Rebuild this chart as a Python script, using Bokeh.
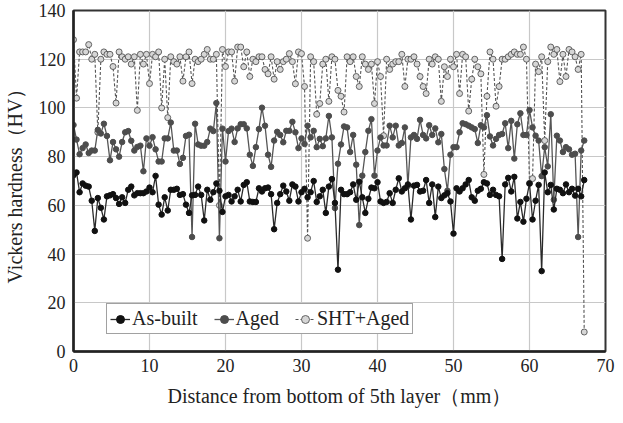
from bokeh.plotting import figure
from bokeh.models import Range1d, FixedTicker, Legend, LegendItem
from bokeh.embed import file_html
from bokeh.resources import INLINE

# Measurement spacing (mm) along the build direction
step_mm = 0.4

as_built = [
    72.4, 73.5, 65.4, 69, 68.1, 67.7, 61.9, 49.5, 63, 59,
    54.2, 63.7, 64.1, 64.6, 63, 60.6, 63.3, 61, 66.4, 67.7,
    64.1, 65, 65, 65, 65.7, 67.3, 65.4, 72.1, 60.3, 56.2,
    63.3, 57.9, 66.4, 66.4, 66.8, 64.3, 64.6, 60.3, 56.9, 64.1,
    64.3, 67.7, 64.3, 53.8, 66.4, 62.3, 65.4, 69, 66, 57.3,
    63.7, 64.3, 61.6, 63.7,
    66.4, 61.6, 68.4, 69.5, 61.6, 61.4, 61.4, 67, 65.7, 67,
    67.3, 64.6, 50.2, 61, 64.6, 68.1, 65.7, 61.9, 68.6, 67.7,
    61.6, 65.4, 66.8, 63.3, 65.4, 70, 61.4, 63.7, 66.4, 56.9,
    67.7, 70.8, 61, 33.6, 66.4, 64.6, 64.6, 65.4, 68.6, 62.3,
    69.7, 63.3, 56.9, 62.7, 67.3, 67, 69.5, 61.6, 61, 61.4,
    65, 61, 66.4, 71.1, 65.7,
    67, 68.6, 54.2, 68.1, 68.4, 65.7, 66, 70.4, 61, 68.6,
    55.2, 67.7, 63, 64.1, 65, 61.6, 48.4, 67, 65.7, 67,
    68.6, 70.4, 63.3, 61.9, 66, 66.8, 69.5, 69, 64.3, 66.4,
    64.3, 63.7, 38, 68.6, 71.3, 65.7, 71.7, 54.6, 61.4, 53.3,
    62.7, 69, 54.2, 61.9, 68.4, 33, 73.5, 65.4, 68.4, 58.3,
    66.8, 66.4, 65, 68.6, 65.4, 66.8, 64, 66.8, 63.7, 70.4,
]

aged = [
    93, 87, 81, 83.5, 85, 81.5, 82.5, 82.5, 91, 89.5,
    93.5, 88.5, 78.5, 86, 83, 80, 86, 90, 90.5, 86.5,
    82.5, 84, 84.5, 74, 87.5, 84.5, 88, 83, 78, 78,
    87.5, 87.5, 94, 82.5, 82.5, 77, 79.5, 88.5, 89, 47,
    93.5, 85, 84.5, 84.5, 86, 91.5, 90.5, 102, 46.5, 91.5,
    78, 90.5, 91.5, 86,
    91.6, 93.3, 93.3, 91.6, 80.8, 76.2, 83.9, 91.3, 100.1, 92.7,
    80.8, 75.8, 86.6, 90.2, 88.9, 85.9, 90.6, 90.6, 94.3, 90,
    83.5, 87.5, 85.2, 92.7, 87.9, 90.6, 83.9, 87.3, 84.3, 87.5,
    96.7, 87.9, 58.9, 77.1, 85, 92.4, 92, 81.9, 88.9, 76.7,
    51.9, 72.2, 81.9, 90.6, 95.4, 72.2, 82.5, 87.9, 84.6, 84.6,
    92.7, 87.9, 92.7, 84.6, 85.6,
    92, 68, 87.9, 88.9, 87.3, 95.1, 88.9, 87.5, 92.9, 88.9,
    91.6, 85.9, 89.3, 74.9, 66, 80.8, 83.9, 83.9, 90, 93.7,
    93.3, 92.7, 92, 91.3, 85.6, 92.9, 92, 97, 88.3, 84.6,
    87.3, 88.9, 89.3, 93.7, 83.5, 94.7, 79.2, 93.3, 97.8, 88.9,
    88.9, 99.1, 92, 88.6, 86.6, 72, 83.9, 76, 97.4, 62.3,
    88.6, 86.6, 81.9, 83.9, 83, 80.8, 81.2, 47, 82.5, 86.6,
]

sht_aged = [
    128, 104, 123, 123, 123, 126, 120, 122, 90, 120,
    123, 122, 122, 117, 102, 123, 121, 120, 121, 118,
    121, 99, 122, 118, 122, 110, 122, 121, 123, 100,
    120, 96, 121, 119, 118, 121, 111, 121, 123, 110,
    120, 119, 120, 122, 124, 120, 120, 122, 60, 124,
    117, 123, 123, 111,
    125, 125, 116.9, 123, 112.9, 120, 119, 121, 121, 115.8,
    114, 121, 111.8, 119, 115.8, 119, 120, 122.3, 119, 109.9,
    123, 122.3, 108.8, 46.5, 121, 119, 97.4, 101.8, 118, 120,
    102.7, 121, 120, 107.2, 104.8, 98.3, 121, 119, 121, 112.9,
    108.8, 121, 118, 115.8, 118, 101.8, 119, 112.9, 88.6, 120,
    115.8, 118, 119, 119, 122,
    108.8, 120, 120, 121, 118, 112.9, 108.8, 105.9, 120, 118,
    121, 120, 102.7, 116.9, 112.9, 120, 116.9, 122, 105.9, 122,
    121, 98.7, 111.8, 120, 116.9, 114, 72.7, 104.8, 123, 120,
    100.7, 108.8, 120, 120, 121, 122, 123, 122, 122, 125,
    120, 69, 71, 118, 114.9, 121, 86.6, 119, 125, 122,
    124, 110.8, 122, 112.9, 124, 123, 121, 115.8, 122, 8,
]

x_ticks = [0, 10, 20, 30, 40, 50, 60, 70]
y_ticks = [0, 20, 40, 60, 80, 100, 120, 140]

def positions(n):
    return [round(step_mm * i, 2) for i in range(n)]

FONT = "Liberation Serif"

p = figure(width=615, height=415, output_backend="svg", toolbar_location=None,
           x_range=Range1d(0, 70), y_range=Range1d(0, 140),
           min_border_left=67, min_border_right=10, min_border_top=10, min_border_bottom=64)

p.xgrid.ticker = FixedTicker(ticks=x_ticks)
p.ygrid.ticker = FixedTicker(ticks=y_ticks)
p.xaxis.ticker = FixedTicker(ticks=x_ticks)
p.yaxis.ticker = FixedTicker(ticks=y_ticks)
for g in (p.xgrid, p.ygrid):
    g.grid_line_color = "#c8c8c8"
    g.grid_line_width = 1.2

for ax in (p.xaxis, p.yaxis):
    ax.axis_line_color = "#222222"
    ax.axis_line_width = 2.5
    ax.major_tick_line_color = None
    ax.minor_tick_line_color = None
    ax.major_tick_out = 0
    ax.major_tick_in = 0
    ax.major_label_text_font = FONT
    ax.major_label_text_font_size = "18px"
    ax.major_label_text_color = "#222222"
    ax.axis_label_text_font = FONT
    ax.axis_label_text_font_size = "20px"
    ax.axis_label_text_font_style = "normal"
    ax.axis_label_text_color = "#222222"

p.xaxis.axis_label = "Distance from bottom of 5th layer（mm）"
p.yaxis.axis_label = "Vickers hardness（HV）"
p.xaxis.major_label_standoff = 7
p.xaxis.axis_label_standoff = 10
p.yaxis.major_label_standoff = 8
p.yaxis.axis_label_standoff = 10

p.outline_line_color = "#333333"
p.outline_line_width = 2
p.background_fill_color = "white"
p.border_fill_color = "white"

xs_sht = positions(len(sht_aged))
xs_aged = positions(len(aged))
xs_ab = positions(len(as_built))

l3 = p.line(xs_sht, sht_aged, line_color="#555555", line_width=1.1, line_dash="3 2")
s3 = p.scatter(xs_sht, sht_aged, size=6, marker="circle", fill_color="#d6d6d6",
               line_color="#555555", line_width=0.9)
l2 = p.line(xs_aged, aged, line_color="#555555", line_width=1.3)
s2 = p.scatter(xs_aged, aged, size=5.5, marker="circle", fill_color="#4d4d4d",
               line_color="#4d4d4d")
l1 = p.line(xs_ab, as_built, line_color="#2a2a2a", line_width=1.3)
s1 = p.scatter(xs_ab, as_built, size=5.5, marker="circle", fill_color="#111111",
               line_color="#111111")

legend = Legend(items=[
    LegendItem(label="As-built", renderers=[l1, s1]),
    LegendItem(label="Aged", renderers=[l2, s2]),
    LegendItem(label="SHT+Aged", renderers=[l3, s3]),
], orientation="horizontal", location=(33, 17))
legend.label_text_font = FONT
legend.label_text_font_size = "20px"
legend.label_text_color = "#222222"
legend.border_line_color = "#444444"
legend.border_line_width = 1.2
legend.background_fill_alpha = 1
legend.padding = 3
legend.margin = 0
legend.spacing = 16
legend.label_standoff = 2
legend.glyph_width = 20
legend.glyph_height = 20
legend.label_height = 20
p.add_layout(legend, "center")

open("out.html", "w").write(file_html(p, INLINE))
